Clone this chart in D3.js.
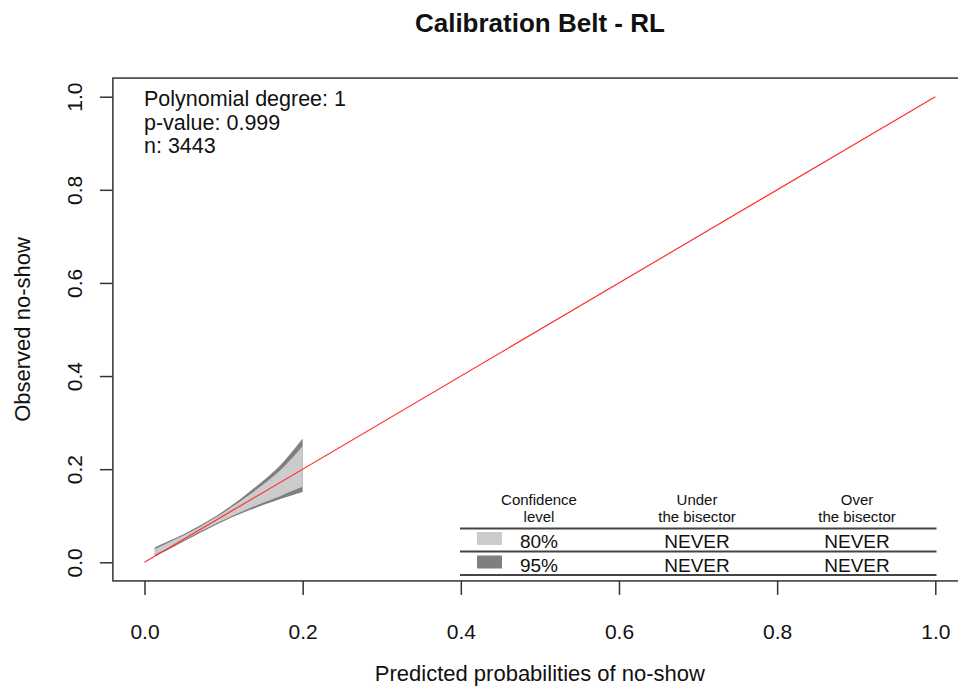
<!DOCTYPE html>
<html>
<head>
<meta charset="utf-8">
<script src="https://cdn.jsdelivr.net/npm/d3@7"></script>
<style>
  body { margin: 0; background: #fff; }
  text { font-family: "Liberation Sans", Arial, sans-serif; fill: #111; }
</style>
</head>
<body>
<svg id="chart" width="958" height="686"></svg>
<script>
// Belt data (predicted vs observed)
const beltX   = [0.013, 0.03, 0.05, 0.07, 0.09, 0.11, 0.13, 0.15, 0.17, 0.185, 0.20];
const lower95 = [0.013, 0.027, 0.045, 0.063, 0.080, 0.096, 0.110, 0.123, 0.135, 0.143, 0.151];
const lower80 = [0.016, 0.030, 0.048, 0.066, 0.083, 0.099, 0.114, 0.128, 0.141, 0.152, 0.162];
const upper80 = [0.028, 0.042, 0.058, 0.076, 0.096, 0.118, 0.142, 0.167, 0.195, 0.221, 0.250];
const upper95 = [0.032, 0.045, 0.061, 0.079, 0.099, 0.122, 0.148, 0.175, 0.205, 0.234, 0.266];

const tickValues = [0, 0.2, 0.4, 0.6, 0.8, 1.0];
const statLines = ['Polynomial degree: 1', 'p-value: 0.999', 'n: 3443'];
const tableHeaders = [['Confidence', 'level'], ['Under', 'the bisector'], ['Over', 'the bisector']];
const levels = ['80%', '95%'];
const underResult = ['NEVER', 'NEVER'];
const overResult = ['NEVER', 'NEVER'];

const lightGrey = '#cccccc', darkGrey = '#7f7f7f';

const svg = d3.select('#chart');

const x = d3.scaleLinear().domain([0, 1]).range([144.5, 935.3]);
const y = d3.scaleLinear().domain([0, 1]).range([562.3, 96.7]);

// plot box (R style, 4% padding)
const bx0 = x(-0.04), bx1 = x(1.04), by0 = y(1.04), by1 = y(-0.04);

// belts
const belt = beltX.map((d, i) => ({x: d, l95: lower95[i], l80: lower80[i], u80: upper80[i], u95: upper95[i]}));

svg.append('path')
    .datum(belt)
    .attr('fill', darkGrey)
    .attr('d', d3.area().curve(d3.curveMonotoneX).x(d => x(d.x)).y0(d => y(d.l95)).y1(d => y(d.u95)));

svg.append('path')
    .datum(belt)
    .attr('fill', lightGrey)
    .attr('d', d3.area().curve(d3.curveMonotoneX).x(d => x(d.x)).y0(d => y(d.l80)).y1(d => y(d.u80)));

// bisector
svg.append('line')
    .attr('x1', x(0)).attr('y1', y(0))
    .attr('x2', x(1)).attr('y2', y(1))
    .attr('stroke', '#ff3030')
    .attr('stroke-width', 1.2);

// box
svg.append('rect')
    .attr('x', bx0).attr('y', by0)
    .attr('width', bx1 - bx0).attr('height', by1 - by0)
    .attr('fill', 'none')
    .attr('stroke', '#333')
    .attr('stroke-width', 1.5);

// axes
const xAxis = d3.axisBottom(x)
    .tickValues(tickValues)
    .tickSize(14)
    .tickPadding(29)
    .tickFormat(d3.format('.1f'));

const yAxis = d3.axisLeft(y)
    .tickValues(tickValues)
    .tickSize(13)
    .tickFormat(d3.format('.1f'));

svg.append('g')
    .attr('transform', `translate(0,${by1})`)
    .call(xAxis)
    .call(g => g.select('.domain').remove())
    .call(g => g.selectAll('line').attr('stroke', '#333').attr('stroke-width', 1.5))
    .call(g => g.selectAll('text').attr('font-size', 21).attr('fill', '#111'));

svg.append('g')
    .attr('transform', `translate(${bx0},0)`)
    .call(yAxis)
    .call(g => g.select('.domain').remove())
    .call(g => g.selectAll('line').attr('stroke', '#333').attr('stroke-width', 1.5))
    .call(g => g.selectAll('text')
        .attr('font-size', 21).attr('fill', '#111')
        .attr('x', null).attr('dy', null)
        .attr('text-anchor', 'middle')
        .attr('transform', 'translate(-31,0) rotate(-90)'));

// titles
svg.append('text')
    .attr('x', (bx0 + bx1) / 2).attr('y', 32)
    .attr('text-anchor', 'middle')
    .attr('font-size', 26).attr('font-weight', 'bold')
    .text('Calibration Belt - RL');

svg.append('text')
    .attr('x', (bx0 + bx1) / 2).attr('y', 681)
    .attr('text-anchor', 'middle')
    .attr('font-size', 22)
    .text('Predicted probabilities of no-show');

svg.append('text')
    .attr('transform', `translate(30,${(by0 + by1) / 2}) rotate(-90)`)
    .attr('text-anchor', 'middle')
    .attr('font-size', 22)
    .text('Observed no-show');

// stats text
svg.append('g').selectAll('text')
    .data(statLines)
  .join('text')
    .attr('x', 144)
    .attr('y', (d, i) => 106 + i * 23.5)
    .attr('font-size', 21.5)
    .text(d => d);

// result table
const colX = [539, 697, 857];
const table = svg.append('g');

tableHeaders.forEach((h, i) => {
  h.forEach((t, j) => {
    table.append('text')
      .attr('x', colX[i]).attr('y', 505 + j * 17)
      .attr('text-anchor', 'middle')
      .attr('font-size', 15)
      .text(t);
  });
});

[528.5, 551.5, 575].forEach(ly => {
  table.append('line')
    .attr('x1', 460).attr('x2', 936.5)
    .attr('y1', ly).attr('y2', ly)
    .attr('stroke', '#444')
    .attr('stroke-width', 1.8);
});

levels.forEach((lv, i) => {
  const ry = 548 + i * 23.5;
  table.append('rect')
    .attr('x', 477).attr('y', ry - 16)
    .attr('width', 25).attr('height', 13)
    .attr('fill', i === 0 ? lightGrey : darkGrey);
  table.append('text')
    .attr('x', colX[0]).attr('y', ry)
    .attr('text-anchor', 'middle').attr('font-size', 19)
    .text(lv);
  table.append('text')
    .attr('x', colX[1]).attr('y', ry)
    .attr('text-anchor', 'middle').attr('font-size', 19)
    .text(underResult[i]);
  table.append('text')
    .attr('x', colX[2]).attr('y', ry)
    .attr('text-anchor', 'middle').attr('font-size', 19)
    .text(overResult[i]);
});
</script>
</body>
</html>
